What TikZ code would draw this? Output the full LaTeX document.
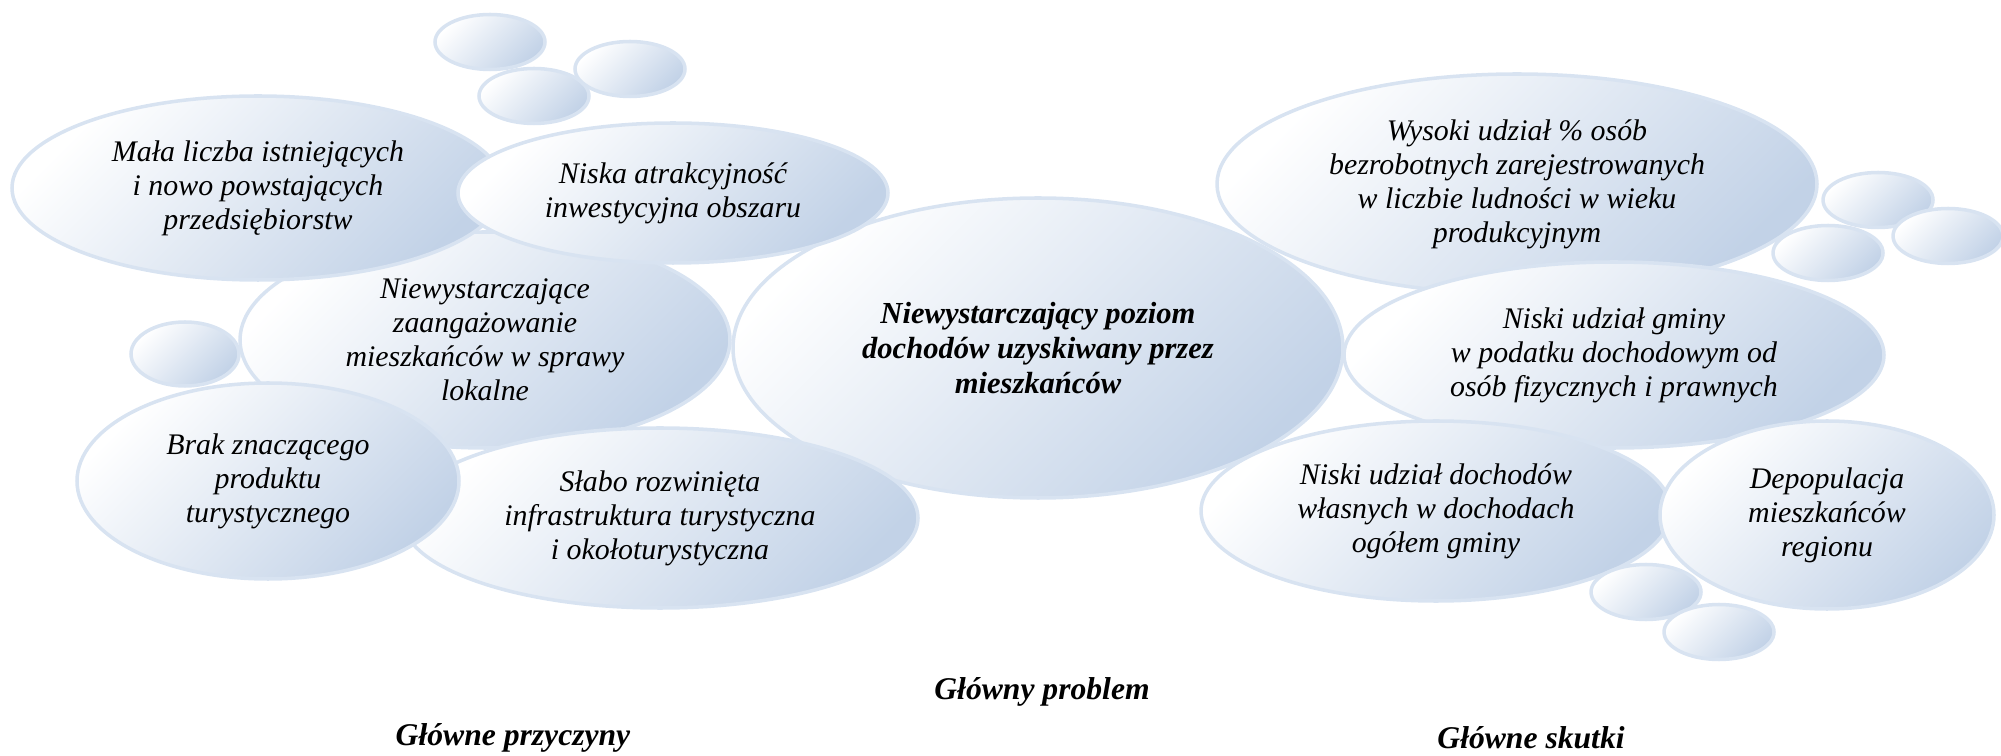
\documentclass[tikz,border=0pt]{standalone}
\usepackage{fontspec}
\setmainfont{Liberation Serif}
\usetikzlibrary{shapes.geometric}

\definecolor{bubbleedge}{RGB}{216,227,241}
\definecolor{bubbledark}{RGB}{194,210,231}

\tikzset{
  bubble/.style={ellipse, draw=bubbleedge, line width=1pt,
    top color=white, bottom color=bubbledark, shading angle=45,
    inner sep=0pt, align=center, font=\fontsize{8.5}{9.7}\selectfont\itshape},
  dims/.style 2 args={minimum width=#1mm, minimum height=#2mm},
  caption/.style={font=\fontsize{9}{10}\selectfont\bfseries\itshape}
}

\begin{document}
\begin{tikzpicture}[x=0.1mm,y=-0.1mm]
			\useasboundingbox (0,0) rectangle (2001,756);

			% male banki u gory
			\begin{scope}[every node/.style={bubble,dims={11}{5.5}}]
				\node (b1) at (490,42) {};
				\node (b2) at (534,96) {};
				\node (b3) at (630,69) {};
			\end{scope}

			% przyczyny i problem
			\begin{scope}[every node/.style={bubble}]
				\node[dims={60}{22}] (wysoki) at (1517,184) {Wysoki udział \% osób\\bezrobotnych zarejestrowanych\\w liczbie ludności w wieku\\produkcyjnym};
				\node[dims={49}{21.6}] (zaang) at (485,340) {Niewystarczające\\zaangażowanie\\mieszkańców w sprawy\\lokalne};
				\node[dims={61}{30},font=\fontsize{8.7}{9.9}\selectfont\bfseries\itshape] (problem) at (1038,348) {Niewystarczający poziom\\dochodów uzyskiwany przez\\mieszkańców};
				\node[dims={49.2}{18.4}] (mala) at (258,188) {Mała liczba istniejących\\i nowo powstających\\przedsiębiorstw};
				\node[dims={43}{14}] (niska) at (673,193) {Niska atrakcyjność\\inwestycyjna obszaru};
				\node[dims={51.6}{18}] (slabo) at (660,518) {Słabo rozwinięta\\infrastruktura turystyczna\\i okołoturystyczna};
				\node[dims={10.8}{6.4}] (b4) at (185,354) {};
				\node[dims={38.2}{19.6}] (brak) at (268,481) {Brak znaczącego\\produktu\\turystycznego};
			\end{scope}

			% skutki
			\begin{scope}[every node/.style={bubble}]
				\node[dims={54}{18.6}] (gmina) at (1614,355) {Niski udział gminy\\w podatku dochodowym od\\osób fizycznych i prawnych};
				\node[dims={47}{18}] (dochody) at (1436,511) {Niski udział dochodów\\własnych w dochodach\\ogółem gminy};
				\node[dims={33.4}{18.8}] (depop) at (1827,515) {Depopulacja\\mieszkańców\\regionu};
			\end{scope}

			\begin{scope}[every node/.style={bubble,dims={11}{5.5}}]
				\node (b5) at (1878,200) {};
				\node (b6) at (1828,253) {};
				\node (b7) at (1948,236) {};
				\node (b8) at (1646,592) {};
				\node (b9) at (1719,632) {};
			\end{scope}

			% podpisy
			\node[caption] (lproblem) at (1042,692) {Główny problem};
			\node[caption] (lprzyczyny) at (513,738) {Główne przyczyny};
			\node[caption] (lskutki) at (1531,738) {Główne skutki};
		\end{tikzpicture}
\end{document}
